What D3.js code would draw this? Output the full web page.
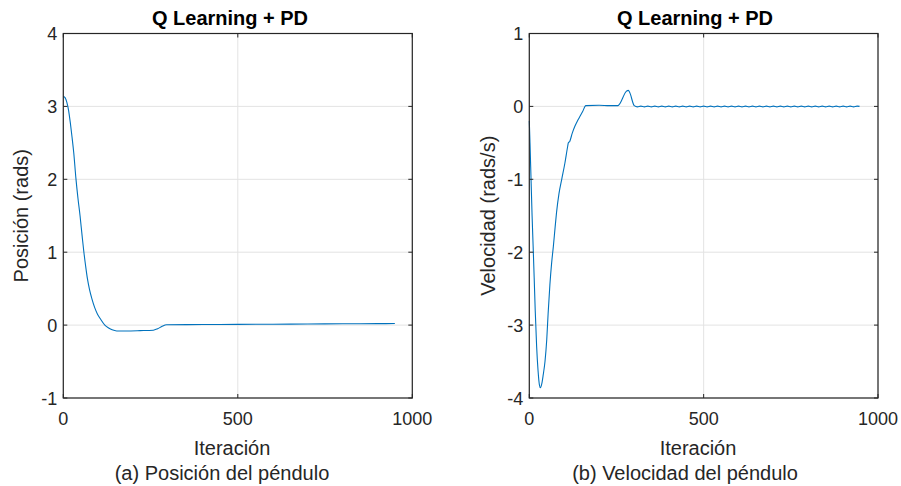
<!DOCTYPE html>
<html lang="en">
<head>
  <meta charset="UTF-8">
  <title>Q Learning + PD</title>
  <script src="https://d3js.org/d3.v7.min.js"></script>
  <style>
    body {
      margin: 0;
      background: #fff;
      font-family: "Liberation Sans", Arial, sans-serif;
    }
    .tick-label {
      font-size: 18px;
      fill: #262626;
    }
    .axis-label {
      font-size: 20px;
      fill: #262626;
    }
    .title {
      font-size: 20px;
      font-weight: bold;
      fill: #000;
    }
  </style>
</head>
<body>
  <svg width="901" height="486"></svg>

  <script>
    // data: [iteration, value]
    const xTicks = [0, 500, 1000];
    const posTicks = [-1, 0, 1, 2, 3, 4];
    const velTicks = [-4, -3, -2, -1, 0, 1];

    const position = [
      [0, 3.14], [5, 3.12], [10, 3.06], [15, 2.95], [20, 2.78], [25, 2.58],
      [30, 2.36], [36, 2.02], [42, 1.74], [48, 1.5], [54, 1.22], [59, 1.0],
      [64, 0.81], [69, 0.64], [75, 0.49], [82, 0.36], [90, 0.24], [98, 0.15],
      [107, 0.08], [119, 0.0], [130, -0.04], [140, -0.065], [153, -0.08],
      [180, -0.08], [220, -0.076], [258, -0.07], [270, -0.05], [282, -0.02],
      [296, 0.005], [400, 0.008], [500, 0.01], [600, 0.012], [700, 0.015],
      [800, 0.018], [900, 0.02], [950, 0.022]
    ];

    const velocity = [
      [0, -0.2], [2, -0.5], [5, -1.0], [8, -1.5], [11, -1.92], [14, -2.35],
      [17, -2.8], [21, -3.29], [25, -3.62], [29, -3.82], [32, -3.86], [36, -3.8],
      [40, -3.68], [45, -3.5], [50, -3.2], [54, -2.84], [59, -2.45], [64, -2.15],
      [69, -1.92], [74, -1.66], [78, -1.46], [85, -1.2], [93, -1.0], [102, -0.78],
      [110, -0.55], [112, -0.5], [116, -0.48], [123, -0.37], [131, -0.27],
      [138, -0.2], [145, -0.14], [153, -0.07], [162, 0.01], [200, 0.015],
      [230, 0.01], [254, 0.01], [279, 0.21], [284, 0.22], [288, 0.19], [301, 0.01],
      [310, -0.006], [320, 0.004], [330, -0.006], [340, 0.004], [350, -0.006],
      [360, 0.004], [370, -0.006], [380, 0.004], [390, -0.006], [400, 0.004],
      [410, -0.006], [420, 0.004], [430, -0.006], [440, 0.004], [450, -0.006],
      [460, 0.004], [470, -0.006], [480, 0.004], [490, -0.006], [500, 0.004],
      [510, -0.006], [520, 0.004], [530, -0.006], [540, 0.004], [550, -0.006],
      [560, 0.004], [570, -0.006], [580, 0.004], [590, -0.006], [600, 0.004],
      [610, -0.006], [620, 0.004], [630, -0.006], [640, 0.004], [650, -0.006],
      [660, 0.004], [670, -0.006], [680, 0.004], [690, -0.006], [700, 0.004],
      [710, -0.006], [720, 0.004], [730, -0.006], [740, 0.004], [750, -0.006],
      [760, 0.004], [770, -0.006], [780, 0.004], [790, -0.006], [800, 0.004],
      [810, -0.006], [820, 0.004], [830, -0.006], [840, 0.004], [850, -0.006],
      [860, 0.004], [870, -0.006], [880, 0.004], [890, -0.006], [900, 0.004],
      [910, -0.006], [920, 0.004], [930, -0.006], [940, 0.004], [947, 0.0]
    ];

    const svg = d3.select("svg");

    function panel(o) {
      const x = d3.scaleLinear().domain([0, 1000]).range([o.left, o.right]);
      const y = d3.scaleLinear().domain(d3.extent(o.yTicks)).range([o.bottom, o.top]);
      const g = svg.append("g");

      // grid
      g.selectAll(".gx").data(xTicks).enter().append("line")
        .attr("x1", d => x(d)).attr("x2", d => x(d))
        .attr("y1", o.top).attr("y2", o.bottom)
        .attr("stroke", "#e3e3e3").attr("stroke-width", 1);
      g.selectAll(".gy").data(o.yTicks).enter().append("line")
        .attr("x1", o.left).attr("x2", o.right)
        .attr("y1", d => y(d)).attr("y2", d => y(d))
        .attr("stroke", "#e3e3e3").attr("stroke-width", 1);

      // curve
      g.append("path")
        .datum(o.data)
        .attr("fill", "none")
        .attr("stroke", "#0072BD")
        .attr("stroke-width", 1.1)
        .attr("d", d3.line().x(d => x(d[0])).y(d => y(d[1])).curve(d3.curveMonotoneX));

      // box and inward ticks
      const tl = 4;
      g.append("rect")
        .attr("x", o.left).attr("y", o.top)
        .attr("width", o.right - o.left).attr("height", o.bottom - o.top)
        .attr("fill", "none").attr("stroke", "#262626").attr("stroke-width", 1.2);
      xTicks.forEach(t => {
        g.append("line").attr("x1", x(t)).attr("x2", x(t))
          .attr("y1", o.bottom).attr("y2", o.bottom - tl).attr("stroke", "#262626");
        g.append("line").attr("x1", x(t)).attr("x2", x(t))
          .attr("y1", o.top).attr("y2", o.top + tl).attr("stroke", "#262626");
      });
      o.yTicks.forEach(t => {
        g.append("line").attr("x1", o.left).attr("x2", o.left + tl)
          .attr("y1", y(t)).attr("y2", y(t)).attr("stroke", "#262626");
        g.append("line").attr("x1", o.right).attr("x2", o.right - tl)
          .attr("y1", y(t)).attr("y2", y(t)).attr("stroke", "#262626");
      });

      // tick labels
      g.selectAll(".xl").data(xTicks).enter().append("text")
        .attr("class", "tick-label")
        .attr("x", d => x(d)).attr("y", 425)
        .attr("text-anchor", "middle")
        .text(d => d);
      g.selectAll(".yl").data(o.yTicks).enter().append("text")
        .attr("class", "tick-label")
        .attr("x", o.left - 6).attr("y", d => y(d) + 6.5)
        .attr("text-anchor", "end")
        .text(d => d);

      // labels
      g.append("text").attr("class", "title")
        .attr("x", o.titleX).attr("y", 25)
        .attr("text-anchor", "middle").text("Q Learning + PD");
      g.append("text").attr("class", "axis-label")
        .attr("x", o.xlabelX).attr("y", 455)
        .attr("text-anchor", "middle").text("Iteración");
      g.append("text").attr("class", "axis-label")
        .attr("x", o.captionX).attr("y", 480)
        .attr("text-anchor", "middle").text(o.caption);
      g.append("text").attr("class", "axis-label")
        .attr("transform", `translate(${o.ylabelX},${(o.top + o.bottom) / 2}) rotate(-90)`)
        .attr("text-anchor", "middle").text(o.ylabel);
    }

    panel({
      left: 63.3, right: 412.3, top: 33.5, bottom: 398,
      yTicks: posTicks, data: position,
      titleX: 230, xlabelX: 232, captionX: 222, ylabelX: 28,
      ylabel: "Posición (rads)", caption: "(a) Posición del péndulo"
    });

    panel({
      left: 529.3, right: 878, top: 33.5, bottom: 398,
      yTicks: velTicks, data: velocity,
      titleX: 695, xlabelX: 698, captionX: 685, ylabelX: 494.5,
      ylabel: "Velocidad (rads/s)", caption: "(b) Velocidad del péndulo"
    });
  </script>
</body>
</html>
